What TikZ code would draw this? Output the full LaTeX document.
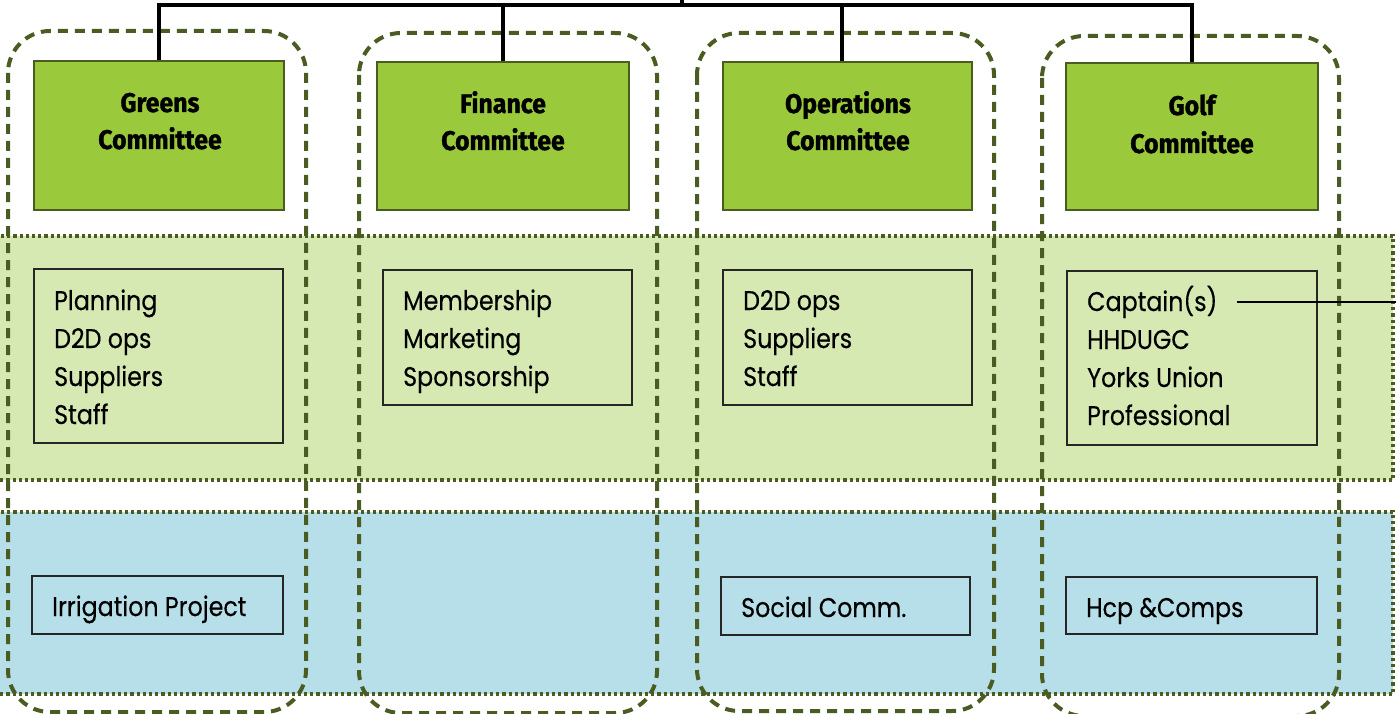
\documentclass[tikz,border=0pt]{standalone}
\usepackage{fontspec}
\newfontfamily\itemfont[FakeStretch=0.88, FakeBold=0.35]{Poppins}
\newfontfamily\titlefont[FakeStretch=0.92, BoldFeatures={FakeBold=1.2}]{Fira Sans}
\definecolor{olive}{RGB}{74,92,34}
\definecolor{cgreen}{RGB}{154,202,60}
\definecolor{bandgreen}{RGB}{215,233,178}
\definecolor{bandblue}{RGB}{183,223,233}
\tikzset{
  band/.style={draw=olive, line width=3.6pt, dash pattern=on 3.2pt off 3pt},
  column/.style={draw=olive, line width=4pt, dash pattern=on 10pt off 7pt, rounded corners=42pt},
  cbox/.style={draw=olive, line width=2pt, fill=cgreen, inner sep=0pt},
  lbox/.style={draw=black!85, line width=1.5pt, inner sep=0pt},
  ctitle/.style={font=\titlefont\bfseries\fontsize{27}{30}\selectfont, anchor=base, inner sep=0pt},
  item/.style={font=\itemfont\fontsize{27}{30}\selectfont, anchor=base west, inner sep=0pt},
  conn/.style={draw=black, line width=3.2pt},
}
\begin{document}
\begin{tikzpicture}[x=1pt, y=-1pt]
\useasboundingbox (0,0) rectangle (1396,714);
% bands
\path[band, fill=bandgreen] (-10,236) rectangle (1393,480);
\path[band, fill=bandblue] (-10,512) rectangle (1393,694);
% dashed columns
\path[column] (8,31) rectangle (306,712);
\path[column] (359,33) rectangle (657,713);
\path[column] (697,33) rectangle (994,711);
\path[column] (1042,36) rectangle (1339,716);
% committee boxes
\node[cbox, minimum width=250pt, minimum height=149pt] (c1) at (159,135.5) {};
\node[cbox, minimum width=252pt, minimum height=148pt] (c2) at (503,136) {};
\node[cbox, minimum width=249pt, minimum height=148pt] (c3) at (847.5,136) {};
\node[cbox, minimum width=252pt, minimum height=147pt] (c4) at (1192,136.5) {};
\node[ctitle] (t1a) at (160,112) {Greens};
\node[ctitle] (t1b) at (160,149) {Committee};
\node[ctitle] (t2a) at (503,113) {Finance};
\node[ctitle] (t2b) at (503,150) {Committee};
\node[ctitle] (t3a) at (848,113) {Operations};
\node[ctitle] (t3b) at (848,150) {Committee};
\node[ctitle] (t4a) at (1192,115) {Golf};
\node[ctitle] (t4b) at (1192,153) {Committee};
% connectors on top
\coordinate (root) at (682,-5);
\coordinate (hub) at (682,5);
\coordinate (d3) at (842,5);
\draw[conn] (root) -- (hub);
\draw[conn] (hub) -| (c1.north);
\draw[conn] (hub) -| (c4.north);
\draw[conn] (c2.north) -- (c2.north |- hub);
\draw[conn] (d3) -- (d3 |- c3.north);
% list boxes
\node[lbox, minimum width=249pt, minimum height=174pt] (l1) at (158.5,356) {};
\node[lbox, minimum width=249pt, minimum height=135pt] (l2) at (507.5,337.5) {};
\node[lbox, minimum width=249pt, minimum height=135pt] (l3) at (847.5,337.5) {};
\node[lbox, minimum width=250pt, minimum height=174pt] (l4) at (1192,358) {};
\foreach \t [count=\i] in {Planning, D2D ops, Suppliers, Staff}
  \node[item] (a\i) at (54,{310+38*(\i-1)}) {\t};
\foreach \t [count=\i] in {Membership, Marketing, Sponsorship}
  \node[item] (b\i) at (403,{310+38*(\i-1)}) {\t};
\foreach \t [count=\i] in {D2D ops, Suppliers, Staff}
  \node[item] (o\i) at (743,{310+38*(\i-1)}) {\t};
\foreach \t [count=\i] in {Captain(s), HHDUGC, Yorks Union, Professional}
  \node[item] (g\i) at (1087,{311+38*(\i-1)}) {\t};
\coordinate (capStart) at (1237,302);
\coordinate (capEnd) at (1400,302);
\draw[conn, line width=2.8pt] (capStart) -- (capEnd);
% bottom boxes
\node[lbox, minimum width=251pt, minimum height=58pt] (p1) at (157.5,605) {};
\node[lbox, minimum width=249pt, minimum height=58pt] (p3) at (845.5,606) {};
\node[lbox, minimum width=251pt, minimum height=57pt] (p4) at (1191.5,605.5) {};
\node[item] (q1) at (52,616) {Irrigation Project};
\node[item] (q3) at (741,617) {Social Comm.};
\node[item] (q4) at (1086,617) {Hcp \&Comps};
\end{tikzpicture}
\end{document}
